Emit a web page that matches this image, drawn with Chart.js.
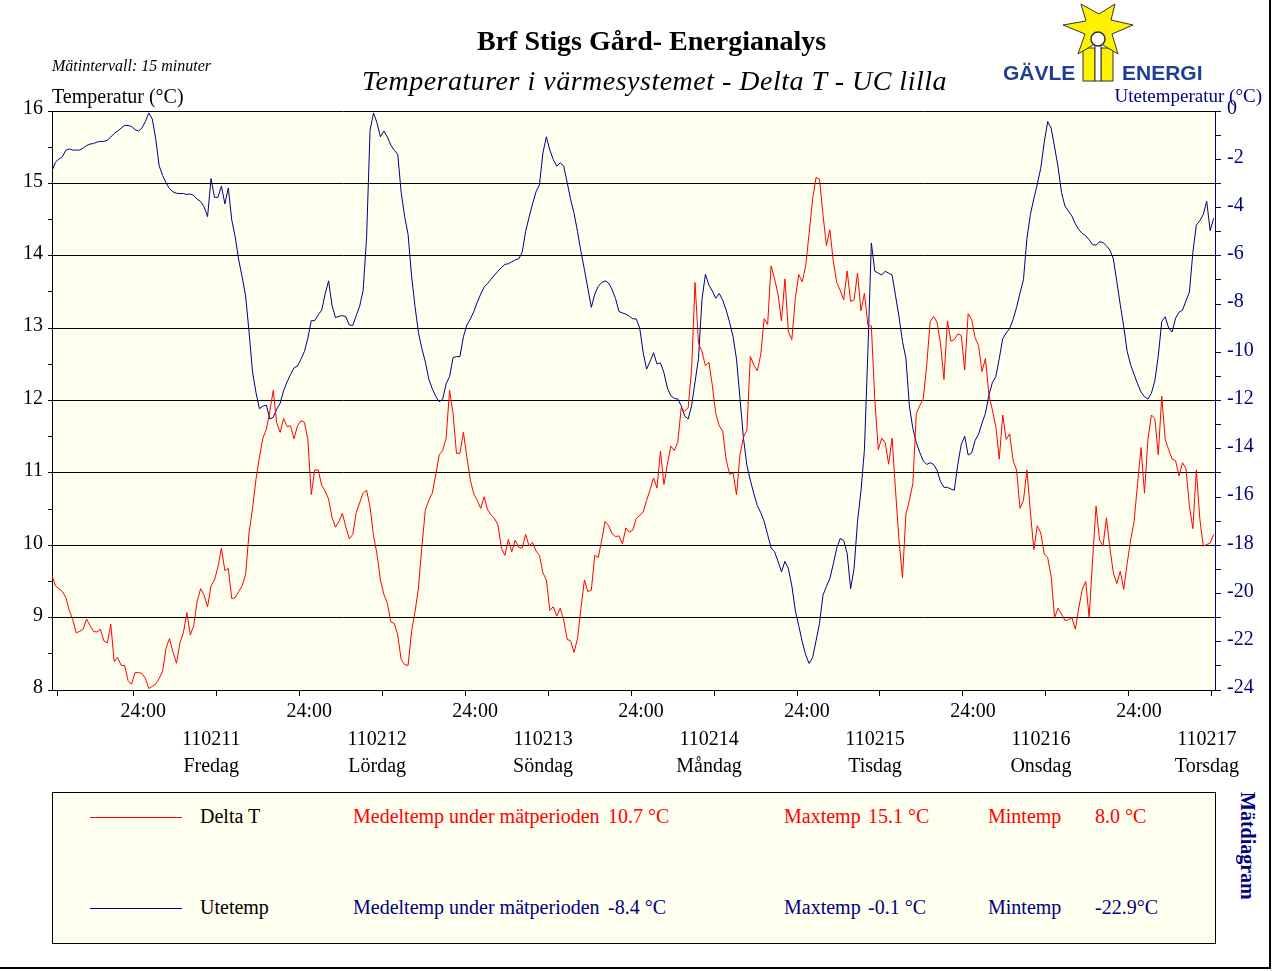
<!DOCTYPE html>
<html>
<head>
<meta charset="utf-8">
<script src="https://cdn.jsdelivr.net/npm/chart.js@4.4.1/dist/chart.umd.min.js"></script>
<style>
  html, body { margin: 0; padding: 0; background: #ffffff; }
  body { width: 1273px; height: 971px; position: relative; overflow: hidden; font-family: "Liberation Serif", "Times New Roman", serif; }
  #wrap { position: absolute; left: 0; top: 0; width: 1273px; height: 790px; }
  .t { position: absolute; white-space: nowrap; line-height: 1; }
  #frameR { position: absolute; left: 1269px; top: 0; width: 2px; height: 969px; background: #000; }
  #frameB { position: absolute; left: 0; top: 967px; width: 1271px; height: 2px; background: #000; }
  #legend { position: absolute; left: 52px; top: 792px; width: 1162px; height: 150px; border: 1px solid #000; background: #FFFFF0; }
  .ln { position: absolute; height: 1px; }
</style>
</head>
<body>
<div id="wrap"><canvas id="c" width="1273" height="790"></canvas></div>

<div class="t" style="left:477px; top:27px; font-size:28px; font-weight:bold;">Brf Stigs Gård- Energianalys</div>
<div class="t" style="left:362px; top:67px; font-size:28px; font-style:italic; letter-spacing:0.5px;">Temperaturer i värmesystemet - Delta T - UC lilla</div>
<div class="t" style="left:52px; top:58px; font-size:16px; font-style:italic;">Mätintervall: 15 minuter</div>
<div class="t" style="left:52px; top:86px; font-size:20px;">Temperatur (°C)</div>
<div class="t" style="right:11px; top:86px; font-size:19px; color:#000080;">Utetemperatur (°C)</div>

<svg style="position:absolute; left:995px; top:0px;" width="215" height="86" viewBox="0 0 215 86">
  <rect x="88" y="48" width="12" height="33" fill="#FFF200" stroke="#333" stroke-width="1"/>
  <rect x="106" y="48" width="12" height="33" fill="#FFF200" stroke="#333" stroke-width="1"/>
  <polygon fill="#FFF200" stroke="#333" stroke-width="1"
    points="138,25 116,20 120,4 104,14 86,4 91,21 68,25 90,34 83,54 103,42 123,54 117,34"/>
  <rect x="100" y="45" width="6" height="36" fill="#FFFFFF" stroke="#333" stroke-width="1"/>
  <circle cx="103" cy="39" r="7" fill="#FFFFFF" stroke="#333" stroke-width="1.5"/>
  <text x="8" y="80" font-family="Liberation Sans" font-weight="bold" font-size="21" fill="#1F3F93">GÄVLE</text>
  <text x="127" y="80" font-family="Liberation Sans" font-weight="bold" font-size="21" fill="#1F3F93">ENERGI</text>
</svg>

<div id="legend"></div>
<div class="ln" style="left:90px; top:817px; width:92px; background:#FF0000;"></div>
<div class="ln" style="left:90px; top:908px; width:92px; background:#000080;"></div>
<div id="legendText"></div>
<div class="t" style="left:1238px; top:792px; font-size:20px; font-weight:bold; color:#000080; writing-mode:vertical-rl;">Mätdiagram</div>
<div id="frameR"></div>
<div id="frameB"></div>

<script>
// ---- Data (15-min measurements, sampled every 30 min) ----
const startHour = -11.75;   // hours relative to 24:00 on 110210
const stepHours = 0.5;

const deltaT = [
9.58,9.44,9.40,9.36,9.28,9.10,8.97,8.79,8.81,8.84,8.98,8.89,8.81,8.80,8.84,8.68,8.65,8.91,8.39,8.45,
8.34,8.34,8.13,8.08,8.24,8.24,8.23,8.16,8.02,8.05,8.08,8.16,8.26,8.58,8.71,8.52,8.37,8.65,8.79,9.07,
8.76,8.89,9.23,9.40,9.31,9.15,9.44,9.52,9.70,9.96,9.65,9.68,9.26,9.28,9.36,9.44,9.60,10.17,10.51,10.91,
11.22,11.48,11.60,11.85,12.14,11.69,11.56,11.75,11.64,11.65,11.47,11.65,11.72,11.70,11.46,10.70,11.04,11.04,10.83,10.75,
10.64,10.38,10.25,10.33,10.44,10.25,10.09,10.15,10.45,10.59,10.72,10.76,10.53,10.13,9.88,9.52,9.32,9.20,8.94,8.92,
8.76,8.42,8.35,8.34,8.81,9.08,9.41,9.99,10.49,10.62,10.72,10.97,11.25,11.31,11.48,12.14,11.82,11.27,11.27,11.56,
11.22,10.90,10.71,10.62,10.51,10.67,10.49,10.42,10.37,10.28,9.96,9.86,10.08,9.91,10.07,9.97,9.96,10.15,9.99,10.04,
9.92,9.86,9.62,9.52,9.10,9.15,9.02,9.13,8.97,8.70,8.68,8.52,8.71,9.13,9.52,9.36,9.38,9.86,9.83,10.07,
10.33,10.27,10.16,10.12,10.13,10.02,10.24,10.18,10.21,10.37,10.41,10.46,10.62,10.77,10.93,10.79,11.30,10.84,11.12,11.37,
11.31,11.42,11.90,11.85,11.90,12.42,13.63,12.79,12.68,12.48,12.53,12.21,11.82,11.65,11.58,11.18,10.98,11.00,10.70,11.25,
11.49,11.59,12.61,12.49,12.41,12.63,13.13,13.05,13.86,13.68,13.47,13.10,13.68,12.95,12.84,13.41,13.74,13.64,13.86,14.31,
14.78,15.08,15.06,14.57,14.14,14.36,13.92,13.63,13.52,13.39,13.79,13.37,13.39,13.76,13.24,13.48,13.04,13.03,12.01,11.32,
11.48,11.42,11.12,11.48,10.75,10.07,9.55,10.43,10.62,10.85,11.82,11.93,12.02,12.48,13.09,13.16,13.08,12.79,12.29,13.10,
12.82,12.84,12.92,12.90,12.42,13.20,13.12,12.87,12.76,12.40,12.58,12.08,11.87,11.64,11.19,11.80,11.46,11.54,11.17,11.04,
10.51,10.62,11.04,10.46,9.94,10.27,10.17,9.88,9.83,9.57,9.00,9.13,9.05,8.96,8.97,9.00,8.84,9.13,9.39,9.50,
9.00,9.81,10.54,10.07,9.99,10.38,9.96,9.62,9.47,9.64,9.39,9.75,10.07,10.33,10.85,11.35,10.72,11.46,11.80,11.75,
11.25,12.06,11.46,11.32,11.19,11.17,10.96,11.14,11.06,10.54,10.23,11.04,10.37,9.99,10.01,10.03,10.15
];

const uteTemp = [
-2.48,-2.12,-1.99,-1.90,-1.63,-1.57,-1.62,-1.62,-1.62,-1.54,-1.43,-1.37,-1.35,-1.29,-1.26,-1.26,-1.21,-1.08,-0.93,-0.83,
-0.71,-0.60,-0.60,-0.64,-0.77,-0.83,-0.71,-0.44,-0.08,-0.33,-1.15,-2.28,-2.67,-2.98,-3.22,-3.35,-3.41,-3.42,-3.42,-3.46,
-3.44,-3.50,-3.66,-3.75,-3.97,-4.38,-2.80,-3.58,-3.58,-3.11,-3.85,-3.19,-4.52,-5.23,-6.17,-6.88,-7.66,-9.16,-10.81,-11.67,
-12.34,-12.23,-12.19,-12.77,-12.69,-12.36,-12.11,-11.59,-11.23,-10.92,-10.65,-10.57,-10.29,-9.97,-9.42,-8.69,-8.69,-8.45,-8.26,-7.59,
-7.04,-8.06,-8.56,-8.51,-8.48,-8.53,-8.87,-8.89,-8.48,-8.09,-7.43,-5.23,-0.80,-0.08,-0.49,-1.07,-0.83,-1.08,-1.41,-1.63,
-1.79,-3.38,-4.37,-5.12,-6.83,-8.10,-9.19,-9.85,-10.41,-11.12,-11.51,-11.83,-12.05,-11.95,-11.31,-11.01,-10.22,-10.18,-10.18,-9.36,
-8.87,-8.62,-8.32,-7.93,-7.59,-7.30,-7.15,-6.97,-6.80,-6.64,-6.49,-6.36,-6.33,-6.25,-6.17,-6.13,-5.86,-4.99,-4.40,-3.85,
-3.35,-3.06,-1.74,-1.07,-1.62,-2.01,-2.29,-2.15,-2.28,-2.95,-3.66,-4.24,-4.99,-5.83,-6.57,-7.35,-8.14,-7.59,-7.27,-7.11,
-7.04,-7.13,-7.40,-7.77,-8.31,-8.37,-8.42,-8.51,-8.61,-8.62,-9.00,-10.02,-10.70,-10.38,-10.02,-10.49,-10.44,-10.85,-11.48,-11.80,
-11.91,-11.94,-12.22,-12.64,-12.77,-12.22,-11.23,-10.26,-7.82,-6.77,-7.21,-7.46,-7.76,-7.56,-7.84,-8.25,-8.76,-9.35,-10.29,-11.91,
-13.55,-14.69,-15.31,-15.86,-16.35,-16.65,-17.01,-17.56,-18.11,-18.27,-18.66,-19.10,-18.67,-18.97,-19.68,-20.70,-21.34,-21.99,-22.54,-22.90,
-22.66,-21.96,-21.25,-20.07,-19.71,-19.38,-18.77,-18.11,-17.72,-17.80,-18.34,-19.80,-18.97,-17.01,-15.75,-14.03,-9.94,-5.47,-6.64,-6.72,
-6.80,-6.64,-6.72,-6.80,-7.66,-8.53,-9.55,-10.26,-12.22,-13.16,-13.74,-14.15,-14.50,-14.65,-14.58,-14.65,-14.89,-15.36,-15.60,-15.60,
-15.67,-15.72,-14.65,-13.82,-13.48,-14.26,-14.18,-13.66,-13.40,-12.94,-12.53,-11.78,-11.26,-11.01,-10.26,-9.44,-9.20,-9.02,-8.64,-8.14,
-7.55,-6.99,-5.28,-4.29,-3.64,-3.03,-2.37,-1.30,-0.44,-0.71,-1.49,-2.32,-3.38,-3.94,-4.15,-4.35,-4.68,-4.92,-5.07,-5.17,
-5.34,-5.54,-5.56,-5.42,-5.45,-5.59,-5.76,-6.13,-7.07,-8.03,-8.94,-9.97,-10.52,-10.92,-11.31,-11.65,-11.84,-11.94,-11.70,-11.18,
-10.15,-8.72,-8.53,-9.00,-9.16,-8.59,-8.34,-8.26,-7.87,-7.51,-5.86,-4.73,-4.55,-4.29,-3.74,-4.96,-4.45
];

// Axis ticks (hours relative to 24:00 on 110210)
const xTickHours = [-11, 0, 12, 24, 36, 48, 60, 72, 84, 96, 108, 120, 132, 144, 156];
const midnightLabel = '24:00';
const dayHours = [12, 36, 60, 84, 108, 132, 156];
const dayDates = ['110211', '110212', '110213', '110214', '110215', '110216', '110217'];
const dayNames = ['Fredag', 'Lördag', 'Söndag', 'Måndag', 'Tisdag', 'Onsdag', 'Torsdag'];
const xMin = -11.75, xMax = 156.45;

// Legend statistics: [medel, max, min]
const deltaStats = ['10.7 °C', '15.1 °C', '8.0 °C'];
const uteStats = ['-8.4 °C', '-0.1 °C', '-22.9°C'];

// ---- legend text ----
(function () {
  const host = document.getElementById('legendText');
  const rows = [
    { y: 806, color: '#FF0000', name: 'Delta T', s: deltaStats },
    { y: 897, color: '#000080', name: 'Utetemp', s: uteStats }
  ];
  rows.forEach(r => {
    const items = [
      [200, r.name, '#000'],
      [353, 'Medeltemp under mätperioden', r.color],
      [608, r.s[0], r.color],
      [784, 'Maxtemp', r.color],
      [868, r.s[1], r.color],
      [988, 'Mintemp', r.color],
      [1095, r.s[2], r.color]
    ];
    items.forEach(([x, txt, col]) => {
      const d = document.createElement('div');
      d.className = 't';
      d.style.cssText = `left:${x}px; top:${r.y}px; font-size:20px; color:${col};`;
      d.textContent = txt;
      host.appendChild(d);
    });
  });
})();

const plotBg = {
  id: 'plotBg',
  beforeDraw(chart) {
    const { ctx, chartArea: a } = chart;
    ctx.save();
    ctx.fillStyle = '#FFFFF0';
    ctx.fillRect(a.left, a.top, a.right - a.left, a.bottom - a.top);
    ctx.restore();
  }
};

const serif = 'Liberation Serif';

new Chart(document.getElementById('c'), {
  type: 'line',
  data: {
    datasets: [
      {
        label: 'Delta T',
        data: deltaT.map((v, i) => ({ x: startHour + i * stepHours, y: v })),
        borderColor: '#FF0000', borderWidth: 1, pointRadius: 0, tension: 0,
        yAxisID: 'y', xAxisID: 'x'
      },
      {
        label: 'Utetemp',
        data: uteTemp.map((v, i) => ({ x: startHour + i * stepHours, y: v })),
        borderColor: '#000080', borderWidth: 1, pointRadius: 0, tension: 0,
        yAxisID: 'y1', xAxisID: 'x'
      }
    ]
  },
  options: {
    responsive: false,
    animation: false,
    devicePixelRatio: 1,
    parsing: false,
    layout: { padding: { top: 111, left: 0, right: 0, bottom: 0 } },
    plugins: { legend: { display: false }, tooltip: { enabled: false }, title: { display: false } },
    scales: {
      x: {
        type: 'linear', position: 'bottom', min: xMin, max: xMax, weight: 0,
        afterBuildTicks: s => { s.ticks = xTickHours.map(v => ({ value: v })); },
        afterFit: s => { s.height = 36; },
        grid: { drawOnChartArea: false, drawTicks: true, tickLength: 6, color: '#000', tickColor: '#000' },
        border: { display: true, color: '#000', width: 1 },
        ticks: {
          autoSkip: false, maxRotation: 0, padding: 4, labelOffset: 10, color: '#000',
          font: { family: serif, size: 20 },
          callback: v => (v >= 0 && v % 24 === 0 ? midnightLabel : '')
        }
      },
      xDay: {
        type: 'linear', position: 'bottom', min: xMin, max: xMax, weight: 1,
        afterBuildTicks: s => { s.ticks = dayHours.map(v => ({ value: v })); },
        afterFit: s => { s.height = 64; },
        grid: { display: false, drawTicks: false },
        border: { display: false },
        ticks: {
          autoSkip: false, maxRotation: 0, padding: 0, labelOffset: -5, color: '#000',
          font: { family: serif, size: 20, lineHeight: 1.35 },
          callback: (v, i) => [dayDates[i], dayNames[i]]
        }
      },
      y: {
        position: 'left', min: 8, max: 16,
        afterBuildTicks: s => { const t = []; for (let v = 8; v <= 16; v += 0.5) t.push({ value: v }); s.ticks = t; },
        afterFit: s => { s.width = 52; },
        grid: {
          color: c => (Number.isInteger(c.tick.value) ? '#000' : 'rgba(0,0,0,0)'),
          tickColor: '#000', tickLength: 4, drawTicks: true, lineWidth: 1
        },
        border: { display: true, color: '#000', width: 1 },
        ticks: {
          autoSkip: false, padding: 5, labelOffset: -2, color: '#000',
          font: { family: serif, size: 20 },
          callback: v => (Number.isInteger(v) ? String(v) : '')
        }
      },
      y1: {
        position: 'right', min: -24, max: 0,
        afterBuildTicks: s => { const t = []; for (let v = -24; v <= 0; v += 1) t.push({ value: v }); s.ticks = t; },
        afterFit: s => { s.width = 58; },
        grid: { drawOnChartArea: false, tickColor: '#000080', tickLength: 6, drawTicks: true },
        border: { display: true, color: '#000080', width: 1 },
        ticks: {
          autoSkip: false, padding: 6, labelOffset: -2, color: '#000080',
          font: { family: serif, size: 20 },
          callback: v => (v % 2 === 0 ? String(v) : '')
        }
      }
    }
  },
  plugins: [plotBg]
});
</script>
</body>
</html>
